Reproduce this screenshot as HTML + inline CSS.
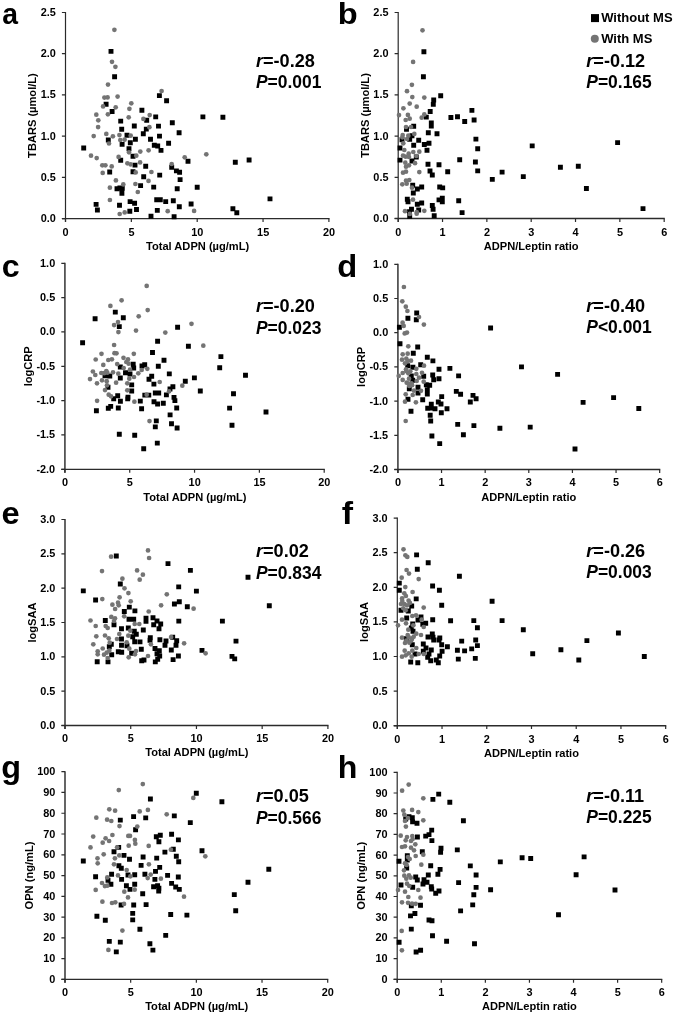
<!DOCTYPE html>
<html><head><meta charset="utf-8"><title>Figure</title>
<style>
html,body{margin:0;padding:0;background:#fff;}
body{width:675px;height:1017px;overflow:hidden;}
svg{display:block;filter:grayscale(1) blur(0.3px);}
svg text{font-family:"Liberation Sans", sans-serif;font-weight:bold;fill:#000;}
</style></head><body>
<svg width="675" height="1017" viewBox="0 0 675 1017">
<rect width="675" height="1017" fill="#fff"/>
<g id="pa">
<path d="M65.5 12V222" fill="none" stroke="#2a2a2a" stroke-width="1.2"/>
<path d="M61.9 218.6H329.5" fill="none" stroke="#2b2b2b" stroke-width="1.35"/>
<path d="M61.9 218.6H65.5M61.9 177.38H65.5M61.9 136.16H65.5M61.9 94.94H65.5M61.9 53.72H65.5M61.9 12.5H65.5M65.5 218.6V222M131.35 218.6V222M197.2 218.6V222M263.05 218.6V222M328.9 218.6V222" fill="none" stroke="#2b2b2b" stroke-width="1.2"/>
<g font-size="10.9" text-anchor="end">
<text x="55.8" y="222.1">0.0</text>
<text x="55.8" y="180.88">0.5</text>
<text x="55.8" y="139.66">1.0</text>
<text x="55.8" y="98.44">1.5</text>
<text x="55.8" y="57.22">2.0</text>
<text x="55.8" y="16">2.5</text>
</g>
<g font-size="10.9" text-anchor="middle">
<text x="65.6" y="235.8">0</text>
<text x="131.45" y="235.8">5</text>
<text x="197.3" y="235.8">10</text>
<text x="263.15" y="235.8">15</text>
<text x="329" y="235.8">20</text>
</g>
<text x="197.6" y="250.4" font-size="11.1" text-anchor="middle">Total ADPN (µg/mL)</text>
<text transform="translate(36.2 115.55) rotate(-90)" font-size="11.1" text-anchor="middle">TBARS (µmol/L)</text>
<text transform="translate(2.28 23.50) scale(0.9443 0.9854)" font-size="30">a</text>
<text x="255.95" y="66.8" font-size="17.7" textLength="58.95" lengthAdjust="spacingAndGlyphs"><tspan font-style="italic">r</tspan>=-0.28</text>
<text x="255.95" y="88.4" font-size="17.7" textLength="65.51" lengthAdjust="spacingAndGlyphs"><tspan font-style="italic">P</tspan>=0.001</text>
<path d="M108.55 48.95h4.9v4.9h-4.9zM112.15 74.35h4.9v4.9h-4.9zM156.95 93.15h4.9v4.9h-4.9zM164.15 98.25h4.9v4.9h-4.9zM103.65 101.85h4.9v4.9h-4.9zM139.45 107.85h4.9v4.9h-4.9zM109.65 109.05h4.9v4.9h-4.9zM153.25 114.45h4.9v4.9h-4.9zM144.25 117.85h4.9v4.9h-4.9zM118.25 118.65h4.9v4.9h-4.9zM169.85 120.25h4.9v4.9h-4.9zM131.85 123.55h4.9v4.9h-4.9zM156.05 123.65h4.9v4.9h-4.9zM143.85 126.65h4.9v4.9h-4.9zM119.25 126.85h4.9v4.9h-4.9zM140.85 131.25h4.9v4.9h-4.9zM124.55 132.85h4.9v4.9h-4.9zM157.05 133.65h4.9v4.9h-4.9zM132.95 136.75h4.9v4.9h-4.9zM148.05 136.75h4.9v4.9h-4.9zM105.85 137.55h4.9v4.9h-4.9zM127.85 140.25h4.9v4.9h-4.9zM166.15 140.75h4.9v4.9h-4.9zM119.65 141.95h4.9v4.9h-4.9zM151.85 142.85h4.9v4.9h-4.9zM155.25 143.55h4.9v4.9h-4.9zM81.25 145.55h4.9v4.9h-4.9zM126.55 146.25h4.9v4.9h-4.9zM158.55 147.95h4.9v4.9h-4.9zM130.55 153.85h4.9v4.9h-4.9zM118.25 157.85h4.9v4.9h-4.9zM132.55 162.65h4.9v4.9h-4.9zM143.25 163.85h4.9v4.9h-4.9zM169.25 164.85h4.9v4.9h-4.9zM107.25 169.55h4.9v4.9h-4.9zM130.55 169.25h4.9v4.9h-4.9zM157.25 172.65h4.9v4.9h-4.9zM141.25 174.25h4.9v4.9h-4.9zM138.15 183.15h4.9v4.9h-4.9zM151.25 184.65h4.9v4.9h-4.9zM114.55 186.25h4.9v4.9h-4.9zM117.45 185.55h4.9v4.9h-4.9zM119.85 185.95h4.9v4.9h-4.9zM119.45 190.85h4.9v4.9h-4.9zM127.65 199.15h4.9v4.9h-4.9zM132.15 200.85h4.9v4.9h-4.9zM154.25 197.25h4.9v4.9h-4.9zM157.85 197.25h4.9v4.9h-4.9zM163.25 199.15h4.9v4.9h-4.9zM170.85 198.35h4.9v4.9h-4.9zM93.65 201.95h4.9v4.9h-4.9zM117.05 202.85h4.9v4.9h-4.9zM94.95 207.55h4.9v4.9h-4.9zM134.05 207.05h4.9v4.9h-4.9zM127.35 208.85h4.9v4.9h-4.9zM154.85 207.95h4.9v4.9h-4.9zM148.55 213.85h4.9v4.9h-4.9zM171.65 214.25h4.9v4.9h-4.9zM200.45 114.45h4.9v4.9h-4.9zM220.45 114.85h4.9v4.9h-4.9zM176.65 130.25h4.9v4.9h-4.9zM185.55 158.85h4.9v4.9h-4.9zM232.85 159.85h4.9v4.9h-4.9zM246.65 157.55h4.9v4.9h-4.9zM173.95 168.45h4.9v4.9h-4.9zM177.15 169.85h4.9v4.9h-4.9zM177.65 177.15h4.9v4.9h-4.9zM194.75 184.85h4.9v4.9h-4.9zM174.75 186.25h4.9v4.9h-4.9zM188.65 201.55h4.9v4.9h-4.9zM176.85 204.25h4.9v4.9h-4.9zM230.45 206.25h4.9v4.9h-4.9zM234.35 210.25h4.9v4.9h-4.9zM267.55 196.45h4.9v4.9h-4.9z" fill="#000"/>
<g fill="#747474"><circle cx="114.4" cy="29.8" r="2.35"/><circle cx="112" cy="61.8" r="2.35"/><circle cx="115.4" cy="66.8" r="2.35"/><circle cx="108" cy="84.6" r="2.35"/><circle cx="161.6" cy="91" r="2.35"/><circle cx="104.4" cy="97.6" r="2.35"/><circle cx="107.6" cy="97.4" r="2.35"/><circle cx="117.6" cy="96.6" r="2.35"/><circle cx="131.3" cy="103.3" r="2.35"/><circle cx="103.1" cy="106.4" r="2.35"/><circle cx="115.7" cy="107.3" r="2.35"/><circle cx="129.4" cy="108.8" r="2.35"/><circle cx="107.9" cy="114.3" r="2.35"/><circle cx="96.3" cy="114.7" r="2.35"/><circle cx="149.7" cy="115.1" r="2.35"/><circle cx="128.7" cy="117.3" r="2.35"/><circle cx="143.4" cy="118.9" r="2.35"/><circle cx="98.3" cy="120.3" r="2.35"/><circle cx="98.1" cy="127.1" r="2.35"/><circle cx="149.4" cy="127.2" r="2.35"/><circle cx="106.3" cy="133.9" r="2.35"/><circle cx="119.4" cy="135.1" r="2.35"/><circle cx="130.7" cy="135.7" r="2.35"/><circle cx="93.7" cy="136.1" r="2.35"/><circle cx="112.9" cy="136.3" r="2.35"/><circle cx="120.3" cy="140" r="2.35"/><circle cx="124.6" cy="139.7" r="2.35"/><circle cx="109" cy="143.5" r="2.35"/><circle cx="148.6" cy="150.3" r="2.35"/><circle cx="140.3" cy="151.6" r="2.35"/><circle cx="129" cy="152.3" r="2.35"/><circle cx="91" cy="155.7" r="2.35"/><circle cx="136.3" cy="155.7" r="2.35"/><circle cx="118.6" cy="156.9" r="2.35"/><circle cx="96.7" cy="158.1" r="2.35"/><circle cx="140.1" cy="162.4" r="2.35"/><circle cx="127.4" cy="163.3" r="2.35"/><circle cx="130.7" cy="164.4" r="2.35"/><circle cx="102.3" cy="165.3" r="2.35"/><circle cx="105.4" cy="165.3" r="2.35"/><circle cx="111.7" cy="166.4" r="2.35"/><circle cx="171.7" cy="164" r="2.35"/><circle cx="102.7" cy="172.9" r="2.35"/><circle cx="135.7" cy="172.4" r="2.35"/><circle cx="151.4" cy="172" r="2.35"/><circle cx="115.9" cy="180.4" r="2.35"/><circle cx="148.5" cy="180.9" r="2.35"/><circle cx="123.3" cy="184.4" r="2.35"/><circle cx="135.4" cy="184" r="2.35"/><circle cx="109.9" cy="187.7" r="2.35"/><circle cx="137.8" cy="192" r="2.35"/><circle cx="109.9" cy="200" r="2.35"/><circle cx="167.7" cy="211.2" r="2.35"/><circle cx="124.7" cy="212.4" r="2.35"/><circle cx="119.7" cy="214" r="2.35"/><circle cx="206.3" cy="154.3" r="2.35"/><circle cx="184.7" cy="157.3" r="2.35"/><circle cx="194.1" cy="210.9" r="2.35"/></g>
</g>
<g id="pb">
<path d="M398.2 12V221.9" fill="none" stroke="#2a2a2a" stroke-width="1.2"/>
<path d="M394.6 218.5H664.78" fill="none" stroke="#2b2b2b" stroke-width="1.35"/>
<path d="M394.6 218.5H398.2M394.6 177.3H398.2M394.6 136.1H398.2M394.6 94.9H398.2M394.6 53.7H398.2M394.6 12.5H398.2M398.2 218.5V221.9M442.53 218.5V221.9M486.86 218.5V221.9M531.19 218.5V221.9M575.52 218.5V221.9M619.85 218.5V221.9M664.18 218.5V221.9" fill="none" stroke="#2b2b2b" stroke-width="1.2"/>
<g font-size="10.9" text-anchor="end">
<text x="388.5" y="222">0.0</text>
<text x="388.5" y="180.8">0.5</text>
<text x="388.5" y="139.6">1.0</text>
<text x="388.5" y="98.4">1.5</text>
<text x="388.5" y="57.2">2.0</text>
<text x="388.5" y="16">2.5</text>
</g>
<g font-size="10.9" text-anchor="middle">
<text x="398.3" y="235.8">0</text>
<text x="442.63" y="235.8">1</text>
<text x="486.96" y="235.8">2</text>
<text x="531.29" y="235.8">3</text>
<text x="575.62" y="235.8">4</text>
<text x="619.95" y="235.8">5</text>
<text x="664.28" y="235.8">6</text>
</g>
<text x="531.19" y="250.1" font-size="11.1" text-anchor="middle">ADPN/Leptin ratio</text>
<text transform="translate(369 115.5) rotate(-90)" font-size="11.1" text-anchor="middle">TBARS (µmol/L)</text>
<text transform="translate(337.70 23.61) scale(1.0880 0.9796)" font-size="30">b</text>
<text x="586.25" y="66.6" font-size="17.7" textLength="58.95" lengthAdjust="spacingAndGlyphs"><tspan font-style="italic">r</tspan>=-0.12</text>
<text x="586.25" y="88.1" font-size="17.7" textLength="65.51" lengthAdjust="spacingAndGlyphs"><tspan font-style="italic">P</tspan>=0.165</text>
<path d="M421.45 49.25h4.9v4.9h-4.9zM420.95 74.35h4.9v4.9h-4.9zM438.25 93.25h4.9v4.9h-4.9zM431.25 97.55h4.9v4.9h-4.9zM430.85 101.95h4.9v4.9h-4.9zM469.45 107.95h4.9v4.9h-4.9zM427.75 109.05h4.9v4.9h-4.9zM423.85 114.65h4.9v4.9h-4.9zM448.45 115.05h4.9v4.9h-4.9zM455.05 114.25h4.9v4.9h-4.9zM471.65 117.55h4.9v4.9h-4.9zM462.25 119.05h4.9v4.9h-4.9zM428.85 120.55h4.9v4.9h-4.9zM428.85 123.55h4.9v4.9h-4.9zM411.25 123.75h4.9v4.9h-4.9zM404.05 126.85h4.9v4.9h-4.9zM425.85 130.25h4.9v4.9h-4.9zM434.55 131.25h4.9v4.9h-4.9zM409.55 133.25h4.9v4.9h-4.9zM399.55 137.25h4.9v4.9h-4.9zM407.25 136.85h4.9v4.9h-4.9zM416.25 137.85h4.9v4.9h-4.9zM426.55 140.85h4.9v4.9h-4.9zM421.85 142.05h4.9v4.9h-4.9zM411.25 142.85h4.9v4.9h-4.9zM473.45 136.65h4.9v4.9h-4.9zM397.55 145.55h4.9v4.9h-4.9zM424.55 147.85h4.9v4.9h-4.9zM413.85 154.55h4.9v4.9h-4.9zM397.55 157.65h4.9v4.9h-4.9zM409.55 158.55h4.9v4.9h-4.9zM425.55 161.85h4.9v4.9h-4.9zM436.55 162.35h4.9v4.9h-4.9zM427.55 168.55h4.9v4.9h-4.9zM429.85 172.55h4.9v4.9h-4.9zM475.25 146.25h4.9v4.9h-4.9zM457.25 157.25h4.9v4.9h-4.9zM472.95 159.55h4.9v4.9h-4.9zM475.25 168.45h4.9v4.9h-4.9zM445.25 169.25h4.9v4.9h-4.9zM410.25 182.85h4.9v4.9h-4.9zM419.25 184.55h4.9v4.9h-4.9zM414.85 186.55h4.9v4.9h-4.9zM410.85 190.55h4.9v4.9h-4.9zM404.85 196.85h4.9v4.9h-4.9zM405.55 199.25h4.9v4.9h-4.9zM419.25 200.55h4.9v4.9h-4.9zM414.85 201.85h4.9v4.9h-4.9zM429.85 203.05h4.9v4.9h-4.9zM430.65 206.75h4.9v4.9h-4.9zM409.05 206.75h4.9v4.9h-4.9zM416.25 207.55h4.9v4.9h-4.9zM407.05 209.25h4.9v4.9h-4.9zM407.25 213.85h4.9v4.9h-4.9zM431.75 213.25h4.9v4.9h-4.9zM437.25 184.55h4.9v4.9h-4.9zM440.25 185.45h4.9v4.9h-4.9zM439.85 195.85h4.9v4.9h-4.9zM436.55 197.45h4.9v4.9h-4.9zM439.85 199.25h4.9v4.9h-4.9zM456.25 198.25h4.9v4.9h-4.9zM459.65 210.15h4.9v4.9h-4.9zM499.65 169.65h4.9v4.9h-4.9zM520.85 174.15h4.9v4.9h-4.9zM489.85 176.95h4.9v4.9h-4.9zM529.75 143.45h4.9v4.9h-4.9zM615.15 140.15h4.9v4.9h-4.9zM557.95 164.85h4.9v4.9h-4.9zM575.85 163.85h4.9v4.9h-4.9zM583.95 186.05h4.9v4.9h-4.9zM640.55 206.15h4.9v4.9h-4.9z" fill="#000"/>
<g fill="#747474"><circle cx="422.5" cy="30.3" r="2.35"/><circle cx="413.1" cy="61.9" r="2.35"/><circle cx="411.9" cy="84.8" r="2.35"/><circle cx="407" cy="91.2" r="2.35"/><circle cx="412.3" cy="97.1" r="2.35"/><circle cx="424.3" cy="97.6" r="2.35"/><circle cx="409.7" cy="103.6" r="2.35"/><circle cx="416.7" cy="106.7" r="2.35"/><circle cx="403.4" cy="108.3" r="2.35"/><circle cx="424.3" cy="114.4" r="2.35"/><circle cx="399" cy="115.1" r="2.35"/><circle cx="407.9" cy="114.9" r="2.35"/><circle cx="421.7" cy="117.7" r="2.35"/><circle cx="409.7" cy="118.7" r="2.35"/><circle cx="405.7" cy="120" r="2.35"/><circle cx="406" cy="127" r="2.35"/><circle cx="411" cy="127" r="2.35"/><circle cx="414.3" cy="133.9" r="2.35"/><circle cx="402.7" cy="135" r="2.35"/><circle cx="408.3" cy="135.7" r="2.35"/><circle cx="402.3" cy="137.3" r="2.35"/><circle cx="407" cy="139" r="2.35"/><circle cx="403.3" cy="143.3" r="2.35"/><circle cx="404.3" cy="150" r="2.35"/><circle cx="419.3" cy="151.7" r="2.35"/><circle cx="413.3" cy="152" r="2.35"/><circle cx="408.7" cy="153.7" r="2.35"/><circle cx="403" cy="155.7" r="2.35"/><circle cx="405.7" cy="156.7" r="2.35"/><circle cx="409" cy="157" r="2.35"/><circle cx="416.3" cy="156" r="2.35"/><circle cx="415" cy="163.2" r="2.35"/><circle cx="405.3" cy="162.7" r="2.35"/><circle cx="409" cy="165.3" r="2.35"/><circle cx="406" cy="166.7" r="2.35"/><circle cx="419.3" cy="172.1" r="2.35"/><circle cx="406" cy="171.7" r="2.35"/><circle cx="403" cy="172.7" r="2.35"/><circle cx="409.3" cy="180" r="2.35"/><circle cx="406" cy="180.7" r="2.35"/><circle cx="406.7" cy="183.7" r="2.35"/><circle cx="402.3" cy="184.3" r="2.35"/><circle cx="412" cy="187.7" r="2.35"/><circle cx="413" cy="199.7" r="2.35"/><circle cx="405" cy="211.2" r="2.35"/><circle cx="424.3" cy="210.8" r="2.35"/><circle cx="416.7" cy="212" r="2.35"/><circle cx="416.7" cy="213.7" r="2.35"/><circle cx="409.8" cy="213.9" r="2.35"/></g>
</g>
<g id="pc">
<path d="M64.9 262.8V472.7" fill="none" stroke="#555" stroke-width="1.8"/>
<path d="M61.3 469.3H324.8" fill="none" stroke="#2b2b2b" stroke-width="1.35"/>
<path d="M61.3 469.3H64.9M61.3 434.97H64.9M61.3 400.63H64.9M61.3 366.3H64.9M61.3 331.97H64.9M61.3 297.63H64.9M61.3 263.3H64.9M64.9 469.3V472.7M129.73 469.3V472.7M194.55 469.3V472.7M259.38 469.3V472.7M324.2 469.3V472.7" fill="none" stroke="#2b2b2b" stroke-width="1.2"/>
<g font-size="10.9" text-anchor="end">
<text x="55.2" y="472.8">-2.0</text>
<text x="55.2" y="438.47">-1.5</text>
<text x="55.2" y="404.13">-1.0</text>
<text x="55.2" y="369.8">-0.5</text>
<text x="55.2" y="335.47">0.0</text>
<text x="55.2" y="301.13">0.5</text>
<text x="55.2" y="266.8">1.0</text>
</g>
<g font-size="10.9" text-anchor="middle">
<text x="65" y="486.1">0</text>
<text x="129.83" y="486.1">5</text>
<text x="194.65" y="486.1">10</text>
<text x="259.48" y="486.1">15</text>
<text x="324.3" y="486.1">20</text>
</g>
<text x="194.95" y="500.8" font-size="11.1" text-anchor="middle">Total ADPN (µg/mL)</text>
<text transform="translate(31.9 366.3) rotate(-90)" font-size="11.1" text-anchor="middle">logCRP</text>
<text transform="translate(1.85 276.60) scale(1.0724 1.0158)" font-size="30">c</text>
<text x="255.95" y="311.7" font-size="17.7" textLength="58.95" lengthAdjust="spacingAndGlyphs"><tspan font-style="italic">r</tspan>=-0.20</text>
<text x="255.95" y="333.5" font-size="17.7" textLength="65.51" lengthAdjust="spacingAndGlyphs"><tspan font-style="italic">P</tspan>=0.023</text>
<path d="M112.85 309.65h4.9v4.9h-4.9zM120.85 315.25h4.9v4.9h-4.9zM92.65 316.25h4.9v4.9h-4.9zM116.85 324.15h4.9v4.9h-4.9zM155.15 338.85h4.9v4.9h-4.9zM80.15 340.25h4.9v4.9h-4.9zM117.85 364.55h4.9v4.9h-4.9zM150.05 350.05h4.9v4.9h-4.9zM161.55 357.85h4.9v4.9h-4.9zM130.75 361.85h4.9v4.9h-4.9zM131.25 365.55h4.9v4.9h-4.9zM142.25 362.25h4.9v4.9h-4.9zM139.55 363.55h4.9v4.9h-4.9zM155.85 363.85h4.9v4.9h-4.9zM102.55 373.25h4.9v4.9h-4.9zM107.35 373.55h4.9v4.9h-4.9zM123.05 370.25h4.9v4.9h-4.9zM117.85 375.55h4.9v4.9h-4.9zM105.55 384.85h4.9v4.9h-4.9zM115.25 393.25h4.9v4.9h-4.9zM111.25 396.25h4.9v4.9h-4.9zM125.55 394.85h4.9v4.9h-4.9zM127.55 371.55h4.9v4.9h-4.9zM149.25 373.85h4.9v4.9h-4.9zM146.55 376.85h4.9v4.9h-4.9zM151.45 381.65h4.9v4.9h-4.9zM129.25 382.45h4.9v4.9h-4.9zM129.25 388.55h4.9v4.9h-4.9zM152.85 390.55h4.9v4.9h-4.9zM156.25 390.55h4.9v4.9h-4.9zM142.35 392.65h4.9v4.9h-4.9zM146.35 392.65h4.9v4.9h-4.9zM125.25 396.45h4.9v4.9h-4.9zM163.95 392.45h4.9v4.9h-4.9zM117.95 398.85h4.9v4.9h-4.9zM137.85 398.65h4.9v4.9h-4.9zM151.55 399.25h4.9v4.9h-4.9zM155.15 401.55h4.9v4.9h-4.9zM160.85 400.85h4.9v4.9h-4.9zM108.25 403.95h4.9v4.9h-4.9zM105.85 405.85h4.9v4.9h-4.9zM115.85 405.55h4.9v4.9h-4.9zM139.15 406.25h4.9v4.9h-4.9zM93.95 408.25h4.9v4.9h-4.9zM153.85 418.45h4.9v4.9h-4.9zM152.85 424.45h4.9v4.9h-4.9zM116.85 431.85h4.9v4.9h-4.9zM132.25 432.85h4.9v4.9h-4.9zM154.85 440.65h4.9v4.9h-4.9zM141.25 446.25h4.9v4.9h-4.9zM185.95 343.85h4.9v4.9h-4.9zM218.45 354.15h4.9v4.9h-4.9zM217.25 365.25h4.9v4.9h-4.9zM166.85 371.45h4.9v4.9h-4.9zM243.05 372.85h4.9v4.9h-4.9zM191.95 375.45h4.9v4.9h-4.9zM182.85 378.85h4.9v4.9h-4.9zM170.45 384.25h4.9v4.9h-4.9zM167.55 386.55h4.9v4.9h-4.9zM197.85 388.55h4.9v4.9h-4.9zM231.05 391.25h4.9v4.9h-4.9zM171.55 394.95h4.9v4.9h-4.9zM172.45 398.15h4.9v4.9h-4.9zM174.25 405.55h4.9v4.9h-4.9zM167.65 412.45h4.9v4.9h-4.9zM169.05 421.25h4.9v4.9h-4.9zM174.65 425.55h4.9v4.9h-4.9zM227.15 405.65h4.9v4.9h-4.9zM229.55 422.85h4.9v4.9h-4.9zM263.55 409.55h4.9v4.9h-4.9zM175.15 324.85h4.9v4.9h-4.9z" fill="#000"/>
<g fill="#747474"><circle cx="146.7" cy="285.9" r="2.35"/><circle cx="121.6" cy="300.3" r="2.35"/><circle cx="110.4" cy="305.9" r="2.35"/><circle cx="147.7" cy="310.1" r="2.35"/><circle cx="138.7" cy="316.3" r="2.35"/><circle cx="118" cy="322.1" r="2.35"/><circle cx="114.1" cy="325.1" r="2.35"/><circle cx="136" cy="330.6" r="2.35"/><circle cx="118.4" cy="332.1" r="2.35"/><circle cx="165.3" cy="332.6" r="2.35"/><circle cx="114.1" cy="345" r="2.35"/><circle cx="101.5" cy="353.8" r="2.35"/><circle cx="114.5" cy="353.2" r="2.35"/><circle cx="116.5" cy="353.3" r="2.35"/><circle cx="95.7" cy="359.5" r="2.35"/><circle cx="108.3" cy="360" r="2.35"/><circle cx="111.9" cy="359.3" r="2.35"/><circle cx="123.5" cy="357.8" r="2.35"/><circle cx="103.3" cy="364.9" r="2.35"/><circle cx="117.2" cy="364.1" r="2.35"/><circle cx="123.7" cy="368.1" r="2.35"/><circle cx="133.8" cy="353.8" r="2.35"/><circle cx="128" cy="359.3" r="2.35"/><circle cx="126.3" cy="362" r="2.35"/><circle cx="128.7" cy="363.7" r="2.35"/><circle cx="147.3" cy="368.8" r="2.35"/><circle cx="130" cy="369.7" r="2.35"/><circle cx="141.7" cy="370" r="2.35"/><circle cx="92.9" cy="371.5" r="2.35"/><circle cx="95.3" cy="375" r="2.35"/><circle cx="101.3" cy="373" r="2.35"/><circle cx="106.3" cy="371" r="2.35"/><circle cx="107.3" cy="372.7" r="2.35"/><circle cx="113" cy="372.3" r="2.35"/><circle cx="118.3" cy="373.7" r="2.35"/><circle cx="90" cy="379.1" r="2.35"/><circle cx="102" cy="380.3" r="2.35"/><circle cx="106.7" cy="381.2" r="2.35"/><circle cx="97" cy="383.3" r="2.35"/><circle cx="116.1" cy="382.7" r="2.35"/><circle cx="107" cy="385.3" r="2.35"/><circle cx="105" cy="390.1" r="2.35"/><circle cx="127.3" cy="383.3" r="2.35"/><circle cx="129.3" cy="378.7" r="2.35"/><circle cx="127.3" cy="390.3" r="2.35"/><circle cx="108.7" cy="394.7" r="2.35"/><circle cx="111" cy="396.3" r="2.35"/><circle cx="138.3" cy="373.3" r="2.35"/><circle cx="134" cy="377" r="2.35"/><circle cx="159.7" cy="382" r="2.35"/><circle cx="146.7" cy="394.7" r="2.35"/><circle cx="97.1" cy="400.8" r="2.35"/><circle cx="134.4" cy="401.7" r="2.35"/><circle cx="149.5" cy="421.1" r="2.35"/><circle cx="203.3" cy="345.7" r="2.35"/><circle cx="182.3" cy="385.7" r="2.35"/><circle cx="169.1" cy="391.3" r="2.35"/><circle cx="191.5" cy="323.8" r="2.35"/><circle cx="104.2" cy="373.2" r="2.35"/></g>
</g>
<g id="pd">
<path d="M397.9 263.8V472.9" fill="none" stroke="#555" stroke-width="1.8"/>
<path d="M394.3 469.5H660.28" fill="none" stroke="#2b2b2b" stroke-width="1.35"/>
<path d="M394.3 469.5H397.9M394.3 435.3H397.9M394.3 401.1H397.9M394.3 366.9H397.9M394.3 332.7H397.9M394.3 298.5H397.9M394.3 264.3H397.9M397.9 469.5V472.9M441.53 469.5V472.9M485.16 469.5V472.9M528.79 469.5V472.9M572.42 469.5V472.9M616.05 469.5V472.9M659.68 469.5V472.9" fill="none" stroke="#2b2b2b" stroke-width="1.2"/>
<g font-size="10.9" text-anchor="end">
<text x="388.2" y="473">-2.0</text>
<text x="388.2" y="438.8">-1.5</text>
<text x="388.2" y="404.6">-1.0</text>
<text x="388.2" y="370.4">-0.5</text>
<text x="388.2" y="336.2">0.0</text>
<text x="388.2" y="302">0.5</text>
<text x="388.2" y="267.8">1.0</text>
</g>
<g font-size="10.9" text-anchor="middle">
<text x="398" y="486.1">0</text>
<text x="441.63" y="486.1">1</text>
<text x="485.26" y="486.1">2</text>
<text x="528.89" y="486.1">3</text>
<text x="572.52" y="486.1">4</text>
<text x="616.15" y="486.1">5</text>
<text x="659.78" y="486.1">6</text>
</g>
<text x="528.79" y="500.8" font-size="11.1" text-anchor="middle">ADPN/Leptin ratio</text>
<text transform="translate(365.2 366.9) rotate(-90)" font-size="11.1" text-anchor="middle">logCRP</text>
<text transform="translate(337.36 276.59) scale(1.0913 1.0385)" font-size="30">d</text>
<text x="586.25" y="311.7" font-size="17.7" textLength="58.95" lengthAdjust="spacingAndGlyphs"><tspan font-style="italic">r</tspan>=-0.40</text>
<text x="586.25" y="333.3" font-size="17.7" textLength="65.51" lengthAdjust="spacingAndGlyphs"><tspan font-style="italic">P</tspan>&lt;0.001</text>
<path d="M414.25 310.55h4.9v4.9h-4.9zM405.45 315.85h4.9v4.9h-4.9zM413.85 317.25h4.9v4.9h-4.9zM396.95 324.85h4.9v4.9h-4.9zM397.55 341.25h4.9v4.9h-4.9zM415.25 344.55h4.9v4.9h-4.9zM410.85 350.85h4.9v4.9h-4.9zM424.85 354.85h4.9v4.9h-4.9zM430.45 358.45h4.9v4.9h-4.9zM418.25 362.25h4.9v4.9h-4.9zM405.25 363.25h4.9v4.9h-4.9zM410.45 364.85h4.9v4.9h-4.9zM436.55 366.85h4.9v4.9h-4.9zM430.25 372.55h4.9v4.9h-4.9zM408.85 373.55h4.9v4.9h-4.9zM421.25 373.85h4.9v4.9h-4.9zM436.55 376.25h4.9v4.9h-4.9zM431.25 377.25h4.9v4.9h-4.9zM410.25 377.85h4.9v4.9h-4.9zM423.85 382.25h4.9v4.9h-4.9zM427.25 382.85h4.9v4.9h-4.9zM415.55 384.75h4.9v4.9h-4.9zM406.85 386.25h4.9v4.9h-4.9zM424.85 387.55h4.9v4.9h-4.9zM415.55 390.55h4.9v4.9h-4.9zM424.85 391.55h4.9v4.9h-4.9zM405.55 396.85h4.9v4.9h-4.9zM420.25 397.25h4.9v4.9h-4.9zM435.85 399.55h4.9v4.9h-4.9zM428.85 401.85h4.9v4.9h-4.9zM425.25 405.85h4.9v4.9h-4.9zM432.55 406.25h4.9v4.9h-4.9zM428.85 405.55h4.9v4.9h-4.9zM408.55 408.85h4.9v4.9h-4.9zM427.75 412.85h4.9v4.9h-4.9zM428.25 418.55h4.9v4.9h-4.9zM438.55 401.55h4.9v4.9h-4.9zM444.55 406.25h4.9v4.9h-4.9zM438.85 410.25h4.9v4.9h-4.9zM455.25 421.95h4.9v4.9h-4.9zM471.45 423.15h4.9v4.9h-4.9zM460.95 432.25h4.9v4.9h-4.9zM429.45 433.55h4.9v4.9h-4.9zM437.25 441.15h4.9v4.9h-4.9zM467.85 399.55h4.9v4.9h-4.9zM488.15 325.55h4.9v4.9h-4.9zM519.05 364.45h4.9v4.9h-4.9zM447.45 365.95h4.9v4.9h-4.9zM456.15 373.45h4.9v4.9h-4.9zM453.85 388.95h4.9v4.9h-4.9zM458.15 391.85h4.9v4.9h-4.9zM470.55 392.95h4.9v4.9h-4.9zM473.65 396.25h4.9v4.9h-4.9zM439.25 394.15h4.9v4.9h-4.9zM497.45 425.85h4.9v4.9h-4.9zM555.15 371.95h4.9v4.9h-4.9zM611.15 395.15h4.9v4.9h-4.9zM580.65 399.95h4.9v4.9h-4.9zM636.35 406.05h4.9v4.9h-4.9zM527.75 424.65h4.9v4.9h-4.9zM572.55 446.55h4.9v4.9h-4.9z" fill="#000"/>
<g fill="#747474"><circle cx="403.9" cy="287" r="2.35"/><circle cx="402.3" cy="301.3" r="2.35"/><circle cx="405.8" cy="306.7" r="2.35"/><circle cx="407.4" cy="311" r="2.35"/><circle cx="419" cy="317" r="2.35"/><circle cx="402.6" cy="322.7" r="2.35"/><circle cx="423.9" cy="324.6" r="2.35"/><circle cx="403.7" cy="325.9" r="2.35"/><circle cx="407" cy="332.6" r="2.35"/><circle cx="404.7" cy="333.4" r="2.35"/><circle cx="408.3" cy="346.3" r="2.35"/><circle cx="402.7" cy="354.3" r="2.35"/><circle cx="407.7" cy="353.7" r="2.35"/><circle cx="402" cy="359.7" r="2.35"/><circle cx="406.3" cy="358.7" r="2.35"/><circle cx="411" cy="360.7" r="2.35"/><circle cx="405" cy="363.3" r="2.35"/><circle cx="424" cy="365.7" r="2.35"/><circle cx="416.3" cy="368.8" r="2.35"/><circle cx="406" cy="369.3" r="2.35"/><circle cx="410.3" cy="371.3" r="2.35"/><circle cx="402.7" cy="373" r="2.35"/><circle cx="408.3" cy="373.3" r="2.35"/><circle cx="422" cy="372.8" r="2.35"/><circle cx="416.3" cy="374" r="2.35"/><circle cx="398.7" cy="375.9" r="2.35"/><circle cx="419" cy="377.7" r="2.35"/><circle cx="409" cy="378.7" r="2.35"/><circle cx="402.7" cy="379.9" r="2.35"/><circle cx="416.7" cy="381" r="2.35"/><circle cx="423.7" cy="381.7" r="2.35"/><circle cx="406.7" cy="382.7" r="2.35"/><circle cx="411.3" cy="383.3" r="2.35"/><circle cx="409.3" cy="386" r="2.35"/><circle cx="414" cy="390.7" r="2.35"/><circle cx="421" cy="390.8" r="2.35"/><circle cx="405.7" cy="394.3" r="2.35"/><circle cx="412.7" cy="395" r="2.35"/><circle cx="405" cy="401.7" r="2.35"/><circle cx="415.9" cy="402.3" r="2.35"/><circle cx="405.7" cy="421" r="2.35"/><circle cx="407.7" cy="360.9" r="2.35"/><circle cx="406.3" cy="371.1" r="2.35"/><circle cx="408.6" cy="383.7" r="2.35"/><circle cx="412.1" cy="385.2" r="2.35"/></g>
</g>
<g id="pe">
<path d="M65 519V728.9" fill="none" stroke="#555" stroke-width="1.8"/>
<path d="M61.4 725.5H328.5" fill="none" stroke="#2b2b2b" stroke-width="1.35"/>
<path d="M61.4 725.5H65M61.4 691.17H65M61.4 656.83H65M61.4 622.5H65M61.4 588.17H65M61.4 553.83H65M61.4 519.5H65M65 725.5V728.9M130.72 725.5V728.9M196.45 725.5V728.9M262.17 725.5V728.9M327.9 725.5V728.9" fill="none" stroke="#2b2b2b" stroke-width="1.2"/>
<g font-size="10.9" text-anchor="end">
<text x="55.3" y="729">0.0</text>
<text x="55.3" y="694.67">0.5</text>
<text x="55.3" y="660.33">1.0</text>
<text x="55.3" y="626">1.5</text>
<text x="55.3" y="591.67">2.0</text>
<text x="55.3" y="557.33">2.5</text>
<text x="55.3" y="523">3.0</text>
</g>
<g font-size="10.9" text-anchor="middle">
<text x="65.1" y="742">0</text>
<text x="130.82" y="742">5</text>
<text x="196.55" y="742">10</text>
<text x="262.27" y="742">15</text>
<text x="328" y="742">20</text>
</g>
<text x="196.85" y="756.3" font-size="11.1" text-anchor="middle">Total ADPN (µg/mL)</text>
<text transform="translate(35.9 622.5) rotate(-90)" font-size="11.1" text-anchor="middle">logSAA</text>
<text transform="translate(1.42 523.79) scale(1.0904 1.0280)" font-size="30">e</text>
<text x="255.95" y="556.7" font-size="17.7" textLength="52.91" lengthAdjust="spacingAndGlyphs"><tspan font-style="italic">r</tspan>=0.02</text>
<text x="255.95" y="578.5" font-size="17.7" textLength="65.51" lengthAdjust="spacingAndGlyphs"><tspan font-style="italic">P</tspan>=0.834</text>
<path d="M113.85 553.55h4.9v4.9h-4.9zM165.55 561.15h4.9v4.9h-4.9zM117.85 581.55h4.9v4.9h-4.9zM80.85 588.45h4.9v4.9h-4.9zM93.15 597.55h4.9v4.9h-4.9zM126.85 604.65h4.9v4.9h-4.9zM121.85 609.05h4.9v4.9h-4.9zM102.85 618.05h4.9v4.9h-4.9zM126.55 616.75h4.9v4.9h-4.9zM111.55 622.25h4.9v4.9h-4.9zM119.05 626.35h4.9v4.9h-4.9zM125.85 625.55h4.9v4.9h-4.9zM132.45 608.45h4.9v4.9h-4.9zM131.25 616.75h4.9v4.9h-4.9zM143.55 615.85h4.9v4.9h-4.9zM143.55 618.85h4.9v4.9h-4.9zM150.55 615.25h4.9v4.9h-4.9zM154.55 618.55h4.9v4.9h-4.9zM158.25 621.55h4.9v4.9h-4.9zM151.25 622.25h4.9v4.9h-4.9zM156.55 626.25h4.9v4.9h-4.9zM140.85 627.55h4.9v4.9h-4.9zM131.85 628.85h4.9v4.9h-4.9zM119.05 636.55h4.9v4.9h-4.9zM108.85 641.85h4.9v4.9h-4.9zM106.85 644.25h4.9v4.9h-4.9zM119.05 642.75h4.9v4.9h-4.9zM124.55 643.25h4.9v4.9h-4.9zM109.25 652.25h4.9v4.9h-4.9zM115.85 649.25h4.9v4.9h-4.9zM119.25 649.85h4.9v4.9h-4.9zM94.75 659.25h4.9v4.9h-4.9zM105.55 659.45h4.9v4.9h-4.9zM133.85 631.85h4.9v4.9h-4.9zM130.25 634.25h4.9v4.9h-4.9zM147.85 635.25h4.9v4.9h-4.9zM147.55 637.85h4.9v4.9h-4.9zM157.45 637.25h4.9v4.9h-4.9zM163.55 638.55h4.9v4.9h-4.9zM162.55 642.85h4.9v4.9h-4.9zM132.25 639.25h4.9v4.9h-4.9zM137.55 639.45h4.9v4.9h-4.9zM152.55 646.05h4.9v4.9h-4.9zM156.85 648.25h4.9v4.9h-4.9zM138.85 646.85h4.9v4.9h-4.9zM129.25 650.85h4.9v4.9h-4.9zM154.55 651.25h4.9v4.9h-4.9zM157.25 653.55h4.9v4.9h-4.9zM141.55 657.55h4.9v4.9h-4.9zM155.25 656.85h4.9v4.9h-4.9zM152.85 659.45h4.9v4.9h-4.9zM176.85 599.25h4.9v4.9h-4.9zM171.95 601.55h4.9v4.9h-4.9zM184.85 604.25h4.9v4.9h-4.9zM176.35 618.65h4.9v4.9h-4.9zM219.95 618.65h4.9v4.9h-4.9zM170.25 634.85h4.9v4.9h-4.9zM174.25 638.25h4.9v4.9h-4.9zM173.55 642.85h4.9v4.9h-4.9zM233.55 638.65h4.9v4.9h-4.9zM168.85 647.55h4.9v4.9h-4.9zM199.55 647.95h4.9v4.9h-4.9zM175.95 653.55h4.9v4.9h-4.9zM170.65 657.15h4.9v4.9h-4.9zM229.55 653.95h4.9v4.9h-4.9zM232.25 656.45h4.9v4.9h-4.9zM187.95 567.95h4.9v4.9h-4.9zM245.55 574.85h4.9v4.9h-4.9zM176.25 584.45h4.9v4.9h-4.9zM193.95 588.65h4.9v4.9h-4.9zM266.85 603.35h4.9v4.9h-4.9zM139.25 658.35h4.9v4.9h-4.9z" fill="#000"/>
<g fill="#747474"><circle cx="148" cy="550.4" r="2.35"/><circle cx="149.1" cy="558" r="2.35"/><circle cx="111.1" cy="556.7" r="2.35"/><circle cx="102" cy="571.1" r="2.35"/><circle cx="137.1" cy="570.4" r="2.35"/><circle cx="142.9" cy="574.7" r="2.35"/><circle cx="122.4" cy="578.7" r="2.35"/><circle cx="139.7" cy="579.7" r="2.35"/><circle cx="124.5" cy="588.3" r="2.35"/><circle cx="128.4" cy="593.1" r="2.35"/><circle cx="166.8" cy="594.3" r="2.35"/><circle cx="119.6" cy="597.3" r="2.35"/><circle cx="102.3" cy="599.1" r="2.35"/><circle cx="130.7" cy="601.3" r="2.35"/><circle cx="118" cy="602.7" r="2.35"/><circle cx="112.4" cy="604.7" r="2.35"/><circle cx="118.7" cy="605.3" r="2.35"/><circle cx="161.1" cy="605.3" r="2.35"/><circle cx="115.1" cy="609" r="2.35"/><circle cx="124.2" cy="616.3" r="2.35"/><circle cx="111.3" cy="616.9" r="2.35"/><circle cx="115" cy="618.3" r="2.35"/><circle cx="114" cy="621" r="2.35"/><circle cx="90.5" cy="620.5" r="2.35"/><circle cx="95.7" cy="626" r="2.35"/><circle cx="105.7" cy="626" r="2.35"/><circle cx="107.7" cy="628" r="2.35"/><circle cx="148.7" cy="611.5" r="2.35"/><circle cx="134.7" cy="624" r="2.35"/><circle cx="139.3" cy="624" r="2.35"/><circle cx="130.3" cy="630.7" r="2.35"/><circle cx="96.3" cy="636.3" r="2.35"/><circle cx="105" cy="635.5" r="2.35"/><circle cx="108.7" cy="638.3" r="2.35"/><circle cx="119.3" cy="634" r="2.35"/><circle cx="117" cy="639" r="2.35"/><circle cx="128.3" cy="635.7" r="2.35"/><circle cx="93.3" cy="644.3" r="2.35"/><circle cx="109.7" cy="642.7" r="2.35"/><circle cx="126.7" cy="642.3" r="2.35"/><circle cx="102.7" cy="648.5" r="2.35"/><circle cx="97.7" cy="651.3" r="2.35"/><circle cx="97.7" cy="654.3" r="2.35"/><circle cx="109.3" cy="650.7" r="2.35"/><circle cx="106.7" cy="652.7" r="2.35"/><circle cx="104" cy="654.7" r="2.35"/><circle cx="129.3" cy="648.7" r="2.35"/><circle cx="107.7" cy="658" r="2.35"/><circle cx="128.7" cy="657.3" r="2.35"/><circle cx="150.9" cy="644.3" r="2.35"/><circle cx="136" cy="651" r="2.35"/><circle cx="135" cy="654.3" r="2.35"/><circle cx="148" cy="656" r="2.35"/><circle cx="193.6" cy="608.7" r="2.35"/><circle cx="171.1" cy="637.1" r="2.35"/><circle cx="184.1" cy="643.3" r="2.35"/><circle cx="205.6" cy="653.3" r="2.35"/></g>
</g>
<g id="pf">
<path d="M397.3 517.6V729.1" fill="none" stroke="#2a2a2a" stroke-width="1.2"/>
<path d="M393.7 725.7H666.28" fill="none" stroke="#2b2b2b" stroke-width="1.35"/>
<path d="M393.7 725.7H397.3M393.7 691.1H397.3M393.7 656.5H397.3M393.7 621.9H397.3M393.7 587.3H397.3M393.7 552.7H397.3M393.7 518.1H397.3M397.3 725.7V729.1M442.03 725.7V729.1M486.76 725.7V729.1M531.49 725.7V729.1M576.22 725.7V729.1M620.95 725.7V729.1M665.68 725.7V729.1" fill="none" stroke="#2b2b2b" stroke-width="1.2"/>
<g font-size="10.9" text-anchor="end">
<text x="387.6" y="729.2">0.0</text>
<text x="387.6" y="694.6">0.5</text>
<text x="387.6" y="660">1.0</text>
<text x="387.6" y="625.4">1.5</text>
<text x="387.6" y="590.8">2.0</text>
<text x="387.6" y="556.2">2.5</text>
<text x="387.6" y="521.6">3.0</text>
</g>
<g font-size="10.9" text-anchor="middle">
<text x="397.4" y="742.5">0</text>
<text x="442.13" y="742.5">1</text>
<text x="486.86" y="742.5">2</text>
<text x="531.59" y="742.5">3</text>
<text x="576.32" y="742.5">4</text>
<text x="621.05" y="742.5">5</text>
<text x="665.78" y="742.5">6</text>
</g>
<text x="531.49" y="756.9" font-size="11.1" text-anchor="middle">ADPN/Leptin ratio</text>
<text transform="translate(367.8 621.9) rotate(-90)" font-size="11.1" text-anchor="middle">logSAA</text>
<text transform="translate(341.82 523.80) scale(1.1321 1.0437)" font-size="30">f</text>
<text x="586.25" y="556.7" font-size="17.7" textLength="58.95" lengthAdjust="spacingAndGlyphs"><tspan font-style="italic">r</tspan>=-0.26</text>
<text x="586.25" y="578.2" font-size="17.7" textLength="65.51" lengthAdjust="spacingAndGlyphs"><tspan font-style="italic">P</tspan>=0.003</text>
<path d="M414.15 552.45h4.9v4.9h-4.9zM425.75 560.25h4.9v4.9h-4.9zM414.85 566.85h4.9v4.9h-4.9zM456.95 573.85h4.9v4.9h-4.9zM396.85 580.65h4.9v4.9h-4.9zM430.15 583.55h4.9v4.9h-4.9zM396.85 587.85h4.9v4.9h-4.9zM436.95 587.85h4.9v4.9h-4.9zM413.75 596.45h4.9v4.9h-4.9zM439.25 602.85h4.9v4.9h-4.9zM409.25 603.55h4.9v4.9h-4.9zM398.55 607.85h4.9v4.9h-4.9zM405.85 608.55h4.9v4.9h-4.9zM404.25 615.55h4.9v4.9h-4.9zM418.55 614.55h4.9v4.9h-4.9zM415.55 617.55h4.9v4.9h-4.9zM430.25 617.25h4.9v4.9h-4.9zM423.25 620.85h4.9v4.9h-4.9zM410.25 621.55h4.9v4.9h-4.9zM408.85 625.55h4.9v4.9h-4.9zM410.55 628.85h4.9v4.9h-4.9zM429.85 631.55h4.9v4.9h-4.9zM425.55 634.55h4.9v4.9h-4.9zM431.25 637.55h4.9v4.9h-4.9zM436.55 637.55h4.9v4.9h-4.9zM403.85 636.25h4.9v4.9h-4.9zM409.85 642.25h4.9v4.9h-4.9zM420.85 641.55h4.9v4.9h-4.9zM423.55 645.55h4.9v4.9h-4.9zM428.85 647.55h4.9v4.9h-4.9zM420.85 648.85h4.9v4.9h-4.9zM412.55 651.55h4.9v4.9h-4.9zM426.55 651.55h4.9v4.9h-4.9zM437.25 653.55h4.9v4.9h-4.9zM425.25 654.85h4.9v4.9h-4.9zM408.25 659.55h4.9v4.9h-4.9zM415.35 660.25h4.9v4.9h-4.9zM428.25 658.25h4.9v4.9h-4.9zM433.85 657.55h4.9v4.9h-4.9zM435.85 660.25h4.9v4.9h-4.9zM455.85 656.65h4.9v4.9h-4.9zM472.85 655.95h4.9v4.9h-4.9zM439.65 648.85h4.9v4.9h-4.9zM454.95 647.85h4.9v4.9h-4.9zM462.15 648.45h4.9v4.9h-4.9zM469.25 646.45h4.9v4.9h-4.9zM474.95 643.15h4.9v4.9h-4.9zM444.95 644.25h4.9v4.9h-4.9zM439.25 642.25h4.9v4.9h-4.9zM459.25 638.65h4.9v4.9h-4.9zM473.25 637.55h4.9v4.9h-4.9zM489.65 598.85h4.9v4.9h-4.9zM448.15 618.25h4.9v4.9h-4.9zM471.35 618.15h4.9v4.9h-4.9zM499.65 618.15h4.9v4.9h-4.9zM474.95 625.25h4.9v4.9h-4.9zM520.85 627.25h4.9v4.9h-4.9zM530.25 651.25h4.9v4.9h-4.9zM558.45 647.25h4.9v4.9h-4.9zM576.35 657.55h4.9v4.9h-4.9zM584.45 638.15h4.9v4.9h-4.9zM615.95 630.55h4.9v4.9h-4.9zM641.85 654.05h4.9v4.9h-4.9zM420.35 621.75h4.9v4.9h-4.9zM430.55 634.65h4.9v4.9h-4.9zM437.35 635.55h4.9v4.9h-4.9z" fill="#000"/>
<g fill="#747474"><circle cx="403.5" cy="549.3" r="2.35"/><circle cx="405.4" cy="555.3" r="2.35"/><circle cx="407.3" cy="556.9" r="2.35"/><circle cx="406.6" cy="570" r="2.35"/><circle cx="409" cy="573.6" r="2.35"/><circle cx="401.7" cy="577.7" r="2.35"/><circle cx="418.7" cy="579.1" r="2.35"/><circle cx="405.3" cy="587.1" r="2.35"/><circle cx="412.6" cy="592" r="2.35"/><circle cx="404.3" cy="593.3" r="2.35"/><circle cx="405.9" cy="596" r="2.35"/><circle cx="402.1" cy="598.4" r="2.35"/><circle cx="408.6" cy="600.7" r="2.35"/><circle cx="401" cy="604" r="2.35"/><circle cx="404.3" cy="604" r="2.35"/><circle cx="407" cy="605.3" r="2.35"/><circle cx="423.7" cy="607.6" r="2.35"/><circle cx="403.3" cy="608.3" r="2.35"/><circle cx="405.7" cy="610.3" r="2.35"/><circle cx="412.3" cy="616" r="2.35"/><circle cx="416" cy="615.3" r="2.35"/><circle cx="402" cy="619.7" r="2.35"/><circle cx="421.7" cy="619.7" r="2.35"/><circle cx="406" cy="623.3" r="2.35"/><circle cx="398" cy="625.3" r="2.35"/><circle cx="413.3" cy="625.3" r="2.35"/><circle cx="423.7" cy="627" r="2.35"/><circle cx="408.3" cy="629.7" r="2.35"/><circle cx="416.3" cy="633.7" r="2.35"/><circle cx="421" cy="635" r="2.35"/><circle cx="407.7" cy="635" r="2.35"/><circle cx="402" cy="637.7" r="2.35"/><circle cx="413.7" cy="636.7" r="2.35"/><circle cx="411.3" cy="640.3" r="2.35"/><circle cx="405" cy="643" r="2.35"/><circle cx="409.3" cy="642.7" r="2.35"/><circle cx="416.3" cy="648" r="2.35"/><circle cx="404.7" cy="650.7" r="2.35"/><circle cx="412.3" cy="650.7" r="2.35"/><circle cx="408.7" cy="653.3" r="2.35"/><circle cx="418.7" cy="654" r="2.35"/><circle cx="423.7" cy="654" r="2.35"/><circle cx="402" cy="656.7" r="2.35"/><circle cx="405.7" cy="655.3" r="2.35"/><circle cx="411.7" cy="656.7" r="2.35"/><circle cx="402.3" cy="601.1" r="2.35"/><circle cx="409.9" cy="602.9" r="2.35"/><circle cx="408.6" cy="637.1" r="2.35"/><circle cx="412.1" cy="638.4" r="2.35"/><circle cx="406.3" cy="640.7" r="2.35"/></g>
</g>
<g id="pg">
<path d="M65 771.2V982.8" fill="none" stroke="#555" stroke-width="1.8"/>
<path d="M61.4 979.4H328.3" fill="none" stroke="#2b2b2b" stroke-width="1.35"/>
<path d="M61.4 979.4H65M61.4 958.63H65M61.4 937.86H65M61.4 917.09H65M61.4 896.32H65M61.4 875.55H65M61.4 854.78H65M61.4 834.01H65M61.4 813.24H65M61.4 792.47H65M61.4 771.7H65M65 979.4V982.8M130.68 979.4V982.8M196.35 979.4V982.8M262.02 979.4V982.8M327.7 979.4V982.8" fill="none" stroke="#2b2b2b" stroke-width="1.2"/>
<g font-size="10.9" text-anchor="end">
<text x="55.3" y="982.9">0</text>
<text x="55.3" y="962.13">10</text>
<text x="55.3" y="941.36">20</text>
<text x="55.3" y="920.59">30</text>
<text x="55.3" y="899.82">40</text>
<text x="55.3" y="879.05">50</text>
<text x="55.3" y="858.28">60</text>
<text x="55.3" y="837.51">70</text>
<text x="55.3" y="816.74">80</text>
<text x="55.3" y="795.97">90</text>
<text x="55.3" y="775.2">100</text>
</g>
<g font-size="10.9" text-anchor="middle">
<text x="65.1" y="996">0</text>
<text x="130.78" y="996">5</text>
<text x="196.45" y="996">10</text>
<text x="262.12" y="996">15</text>
<text x="327.8" y="996">20</text>
</g>
<text x="196.75" y="1010.3" font-size="11.1" text-anchor="middle">Total ADPN (µg/mL)</text>
<text transform="translate(32.7 875.55) rotate(-90)" font-size="11.1" text-anchor="middle">OPN (ng/mL)</text>
<text transform="translate(1.17 777.58) scale(1.0802 1.0253)" font-size="30">g</text>
<text x="255.95" y="801.7" font-size="17.7" textLength="52.91" lengthAdjust="spacingAndGlyphs"><tspan font-style="italic">r</tspan>=0.05</text>
<text x="255.95" y="823.5" font-size="17.7" textLength="65.51" lengthAdjust="spacingAndGlyphs"><tspan font-style="italic">P</tspan>=0.566</text>
<path d="M147.95 796.55h4.9v4.9h-4.9zM131.15 814.15h4.9v4.9h-4.9zM143.25 815.45h4.9v4.9h-4.9zM117.85 817.65h4.9v4.9h-4.9zM133.15 827.25h4.9v4.9h-4.9zM157.85 832.85h4.9v4.9h-4.9zM153.85 834.25h4.9v4.9h-4.9zM156.45 839.25h4.9v4.9h-4.9zM116.25 844.95h4.9v4.9h-4.9zM111.55 849.25h4.9v4.9h-4.9zM162.45 849.65h4.9v4.9h-4.9zM121.55 852.95h4.9v4.9h-4.9zM140.65 854.55h4.9v4.9h-4.9zM154.25 855.65h4.9v4.9h-4.9zM127.05 856.85h4.9v4.9h-4.9zM80.85 858.55h4.9v4.9h-4.9zM138.65 862.95h4.9v4.9h-4.9zM116.45 863.25h4.9v4.9h-4.9zM118.85 865.85h4.9v4.9h-4.9zM157.25 864.95h4.9v4.9h-4.9zM153.05 868.95h4.9v4.9h-4.9zM109.15 871.85h4.9v4.9h-4.9zM142.45 871.85h4.9v4.9h-4.9zM132.25 872.25h4.9v4.9h-4.9zM125.55 872.55h4.9v4.9h-4.9zM165.15 872.95h4.9v4.9h-4.9zM93.15 874.25h4.9v4.9h-4.9zM119.15 876.95h4.9v4.9h-4.9zM152.45 876.95h4.9v4.9h-4.9zM105.55 877.85h4.9v4.9h-4.9zM108.45 881.85h4.9v4.9h-4.9zM132.25 881.85h4.9v4.9h-4.9zM123.95 883.25h4.9v4.9h-4.9zM151.15 884.25h4.9v4.9h-4.9zM155.15 883.25h4.9v4.9h-4.9zM156.45 885.85h4.9v4.9h-4.9zM156.25 888.55h4.9v4.9h-4.9zM127.55 886.95h4.9v4.9h-4.9zM140.25 891.25h4.9v4.9h-4.9zM118.65 902.55h4.9v4.9h-4.9zM131.25 902.55h4.9v4.9h-4.9zM143.65 902.15h4.9v4.9h-4.9zM130.25 910.95h4.9v4.9h-4.9zM94.45 913.85h4.9v4.9h-4.9zM102.85 917.85h4.9v4.9h-4.9zM130.25 917.45h4.9v4.9h-4.9zM137.45 926.85h4.9v4.9h-4.9zM163.25 932.95h4.9v4.9h-4.9zM106.85 938.95h4.9v4.9h-4.9zM117.85 939.65h4.9v4.9h-4.9zM147.45 941.25h4.9v4.9h-4.9zM113.85 949.45h4.9v4.9h-4.9zM150.45 947.65h4.9v4.9h-4.9zM193.85 790.85h4.9v4.9h-4.9zM219.45 799.25h4.9v4.9h-4.9zM171.85 813.45h4.9v4.9h-4.9zM187.85 820.15h4.9v4.9h-4.9zM169.15 831.85h4.9v4.9h-4.9zM175.95 837.45h4.9v4.9h-4.9zM170.85 846.85h4.9v4.9h-4.9zM199.55 848.25h4.9v4.9h-4.9zM173.85 853.85h4.9v4.9h-4.9zM176.25 859.25h4.9v4.9h-4.9zM175.85 874.55h4.9v4.9h-4.9zM169.15 880.95h4.9v4.9h-4.9zM173.25 884.55h4.9v4.9h-4.9zM176.85 886.95h4.9v4.9h-4.9zM231.85 892.15h4.9v4.9h-4.9zM245.55 879.85h4.9v4.9h-4.9zM266.35 866.75h4.9v4.9h-4.9zM233.25 908.35h4.9v4.9h-4.9zM168.25 912.05h4.9v4.9h-4.9zM184.45 912.65h4.9v4.9h-4.9z" fill="#000"/>
<g fill="#747474"><circle cx="142.8" cy="784.1" r="2.35"/><circle cx="118.8" cy="790.1" r="2.35"/><circle cx="109.3" cy="809.3" r="2.35"/><circle cx="115.1" cy="810.7" r="2.35"/><circle cx="147.9" cy="809.9" r="2.35"/><circle cx="139.7" cy="811.4" r="2.35"/><circle cx="166.7" cy="814.3" r="2.35"/><circle cx="96.3" cy="817.7" r="2.35"/><circle cx="107.1" cy="819.7" r="2.35"/><circle cx="111.3" cy="821" r="2.35"/><circle cx="119.5" cy="826.1" r="2.35"/><circle cx="137.3" cy="826.6" r="2.35"/><circle cx="112.4" cy="835" r="2.35"/><circle cx="128.3" cy="835.9" r="2.35"/><circle cx="130" cy="835.9" r="2.35"/><circle cx="93.2" cy="836.6" r="2.35"/><circle cx="105.6" cy="838.3" r="2.35"/><circle cx="134.9" cy="839.9" r="2.35"/><circle cx="109.1" cy="841" r="2.35"/><circle cx="102.7" cy="842.7" r="2.35"/><circle cx="135.3" cy="843.7" r="2.35"/><circle cx="128.7" cy="845.7" r="2.35"/><circle cx="148.7" cy="845.9" r="2.35"/><circle cx="90.5" cy="847.4" r="2.35"/><circle cx="117.1" cy="847.3" r="2.35"/><circle cx="103.7" cy="854.3" r="2.35"/><circle cx="119.3" cy="855.4" r="2.35"/><circle cx="97.5" cy="858.3" r="2.35"/><circle cx="114.9" cy="858.3" r="2.35"/><circle cx="97.7" cy="863.3" r="2.35"/><circle cx="114" cy="864.3" r="2.35"/><circle cx="148.9" cy="864.3" r="2.35"/><circle cx="126.7" cy="870.1" r="2.35"/><circle cx="150.7" cy="874.6" r="2.35"/><circle cx="130.4" cy="876.3" r="2.35"/><circle cx="118" cy="875.4" r="2.35"/><circle cx="107.3" cy="877.4" r="2.35"/><circle cx="147.7" cy="878.1" r="2.35"/><circle cx="160.9" cy="878.7" r="2.35"/><circle cx="102" cy="883" r="2.35"/><circle cx="104.9" cy="886.1" r="2.35"/><circle cx="107.3" cy="885.7" r="2.35"/><circle cx="134.7" cy="889.7" r="2.35"/><circle cx="95.7" cy="889.9" r="2.35"/><circle cx="124.3" cy="891.7" r="2.35"/><circle cx="128" cy="897.4" r="2.35"/><circle cx="102.4" cy="901.7" r="2.35"/><circle cx="115.3" cy="902.3" r="2.35"/><circle cx="112" cy="903" r="2.35"/><circle cx="124" cy="903.9" r="2.35"/><circle cx="122.4" cy="930.6" r="2.35"/><circle cx="108.4" cy="949.9" r="2.35"/><circle cx="193.3" cy="797.9" r="2.35"/><circle cx="170.9" cy="849.7" r="2.35"/><circle cx="205.3" cy="856.3" r="2.35"/><circle cx="184" cy="896.7" r="2.35"/></g>
</g>
<g id="ph">
<path d="M397.2 771.8V982.7" fill="none" stroke="#2a2a2a" stroke-width="1.2"/>
<path d="M393.6 979.3H662.28" fill="none" stroke="#2b2b2b" stroke-width="1.35"/>
<path d="M393.6 979.3H397.2M393.6 958.6H397.2M393.6 937.9H397.2M393.6 917.2H397.2M393.6 896.5H397.2M393.6 875.8H397.2M393.6 855.1H397.2M393.6 834.4H397.2M393.6 813.7H397.2M393.6 793H397.2M393.6 772.3H397.2M397.2 979.3V982.7M441.28 979.3V982.7M485.36 979.3V982.7M529.44 979.3V982.7M573.52 979.3V982.7M617.6 979.3V982.7M661.68 979.3V982.7" fill="none" stroke="#2b2b2b" stroke-width="1.2"/>
<g font-size="10.9" text-anchor="end">
<text x="387.5" y="982.8">0</text>
<text x="387.5" y="962.1">10</text>
<text x="387.5" y="941.4">20</text>
<text x="387.5" y="920.7">30</text>
<text x="387.5" y="900">40</text>
<text x="387.5" y="879.3">50</text>
<text x="387.5" y="858.6">60</text>
<text x="387.5" y="837.9">70</text>
<text x="387.5" y="817.2">80</text>
<text x="387.5" y="796.5">90</text>
<text x="387.5" y="775.8">100</text>
</g>
<g font-size="10.9" text-anchor="middle">
<text x="397.3" y="996">0</text>
<text x="441.38" y="996">1</text>
<text x="485.46" y="996">2</text>
<text x="529.54" y="996">3</text>
<text x="573.62" y="996">4</text>
<text x="617.7" y="996">5</text>
<text x="661.78" y="996">6</text>
</g>
<text x="529.44" y="1010.3" font-size="11.1" text-anchor="middle">ADPN/Leptin ratio</text>
<text transform="translate(365.2 875.8) rotate(-90)" font-size="11.1" text-anchor="middle">OPN (ng/mL)</text>
<text transform="translate(337.65 777.90) scale(1.0717 1.0207)" font-size="30">h</text>
<text x="586.25" y="801.7" font-size="17.7" textLength="57.95" lengthAdjust="spacingAndGlyphs"><tspan font-style="italic">r</tspan>=-0.11</text>
<text x="586.25" y="823.2" font-size="17.7" textLength="65.51" lengthAdjust="spacingAndGlyphs"><tspan font-style="italic">P</tspan>=0.225</text>
<path d="M436.25 791.65h4.9v4.9h-4.9zM430.45 796.95h4.9v4.9h-4.9zM447.35 799.85h4.9v4.9h-4.9zM406.55 814.15h4.9v4.9h-4.9zM409.85 815.25h4.9v4.9h-4.9zM403.25 816.55h4.9v4.9h-4.9zM460.95 818.25h4.9v4.9h-4.9zM410.15 819.45h4.9v4.9h-4.9zM414.55 820.85h4.9v4.9h-4.9zM429.25 827.65h4.9v4.9h-4.9zM426.55 832.15h4.9v4.9h-4.9zM423.25 833.65h4.9v4.9h-4.9zM414.95 834.55h4.9v4.9h-4.9zM429.45 838.15h4.9v4.9h-4.9zM419.85 849.25h4.9v4.9h-4.9zM404.85 853.25h4.9v4.9h-4.9zM404.85 857.55h4.9v4.9h-4.9zM396.55 858.85h4.9v4.9h-4.9zM428.25 863.25h4.9v4.9h-4.9zM404.25 865.55h4.9v4.9h-4.9zM413.25 874.55h4.9v4.9h-4.9zM414.85 877.55h4.9v4.9h-4.9zM425.85 872.55h4.9v4.9h-4.9zM421.55 877.25h4.9v4.9h-4.9zM424.55 879.85h4.9v4.9h-4.9zM420.55 881.55h4.9v4.9h-4.9zM428.85 884.25h4.9v4.9h-4.9zM429.25 886.55h4.9v4.9h-4.9zM398.55 882.55h4.9v4.9h-4.9zM410.25 884.85h4.9v4.9h-4.9zM436.55 888.55h4.9v4.9h-4.9zM433.25 890.85h4.9v4.9h-4.9zM408.85 903.25h4.9v4.9h-4.9zM418.05 902.75h4.9v4.9h-4.9zM412.45 911.05h4.9v4.9h-4.9zM408.05 913.45h4.9v4.9h-4.9zM426.55 917.55h4.9v4.9h-4.9zM429.55 918.25h4.9v4.9h-4.9zM470.25 902.45h4.9v4.9h-4.9zM458.15 908.45h4.9v4.9h-4.9zM408.85 926.65h4.9v4.9h-4.9zM430.05 933.25h4.9v4.9h-4.9zM444.15 938.85h4.9v4.9h-4.9zM396.65 939.85h4.9v4.9h-4.9zM472.05 941.25h4.9v4.9h-4.9zM418.15 947.85h4.9v4.9h-4.9zM413.65 949.55h4.9v4.9h-4.9zM438.55 845.85h4.9v4.9h-4.9zM438.15 849.85h4.9v4.9h-4.9zM454.85 847.45h4.9v4.9h-4.9zM519.65 855.25h4.9v4.9h-4.9zM497.85 859.45h4.9v4.9h-4.9zM467.85 863.45h4.9v4.9h-4.9zM437.65 866.95h4.9v4.9h-4.9zM435.45 871.85h4.9v4.9h-4.9zM473.65 872.55h4.9v4.9h-4.9zM456.15 880.15h4.9v4.9h-4.9zM473.65 884.95h4.9v4.9h-4.9zM488.15 887.25h4.9v4.9h-4.9zM471.35 892.25h4.9v4.9h-4.9zM528.25 856.05h4.9v4.9h-4.9zM581.65 854.45h4.9v4.9h-4.9zM573.65 872.35h4.9v4.9h-4.9zM612.55 887.55h4.9v4.9h-4.9zM556.05 912.35h4.9v4.9h-4.9z" fill="#000"/>
<g fill="#747474"><circle cx="408.7" cy="784.6" r="2.35"/><circle cx="402.1" cy="790.7" r="2.35"/><circle cx="423.3" cy="798.3" r="2.35"/><circle cx="412.1" cy="809.9" r="2.35"/><circle cx="403.3" cy="810.6" r="2.35"/><circle cx="418.3" cy="812.1" r="2.35"/><circle cx="404.3" cy="814.7" r="2.35"/><circle cx="407.9" cy="818.1" r="2.35"/><circle cx="405" cy="821" r="2.35"/><circle cx="423.3" cy="820.3" r="2.35"/><circle cx="405.9" cy="826.6" r="2.35"/><circle cx="400.7" cy="835.7" r="2.35"/><circle cx="412.3" cy="836.1" r="2.35"/><circle cx="407" cy="837" r="2.35"/><circle cx="405.7" cy="840.3" r="2.35"/><circle cx="411" cy="841" r="2.35"/><circle cx="412.7" cy="839" r="2.35"/><circle cx="415.3" cy="844.3" r="2.35"/><circle cx="402" cy="847" r="2.35"/><circle cx="405" cy="846.3" r="2.35"/><circle cx="411" cy="847.7" r="2.35"/><circle cx="414" cy="850.3" r="2.35"/><circle cx="423.3" cy="854.7" r="2.35"/><circle cx="415.7" cy="856" r="2.35"/><circle cx="408" cy="857" r="2.35"/><circle cx="409.7" cy="859" r="2.35"/><circle cx="405" cy="863.3" r="2.35"/><circle cx="406.7" cy="865" r="2.35"/><circle cx="421.3" cy="864.7" r="2.35"/><circle cx="404" cy="870.3" r="2.35"/><circle cx="404.3" cy="875.7" r="2.35"/><circle cx="409" cy="875.3" r="2.35"/><circle cx="406.3" cy="878.7" r="2.35"/><circle cx="410.7" cy="877.7" r="2.35"/><circle cx="407" cy="883.7" r="2.35"/><circle cx="409.3" cy="886" r="2.35"/><circle cx="418.3" cy="890" r="2.35"/><circle cx="398" cy="890" r="2.35"/><circle cx="405" cy="891.7" r="2.35"/><circle cx="408.3" cy="897" r="2.35"/><circle cx="420.5" cy="897.7" r="2.35"/><circle cx="402" cy="902.3" r="2.35"/><circle cx="408" cy="902.8" r="2.35"/><circle cx="412" cy="903.7" r="2.35"/><circle cx="415.7" cy="903.8" r="2.35"/><circle cx="401.7" cy="930.9" r="2.35"/><circle cx="401.9" cy="950.3" r="2.35"/></g>
</g>
<g id="legend" font-size="13"><rect x="591" y="14.1" width="8" height="8" fill="#000"/><text x="601.2" y="22.2">Without MS</text><circle cx="594.8" cy="38.8" r="4" fill="#747474"/><text x="601.2" y="43">With MS</text></g>
</svg>
</body></html>
